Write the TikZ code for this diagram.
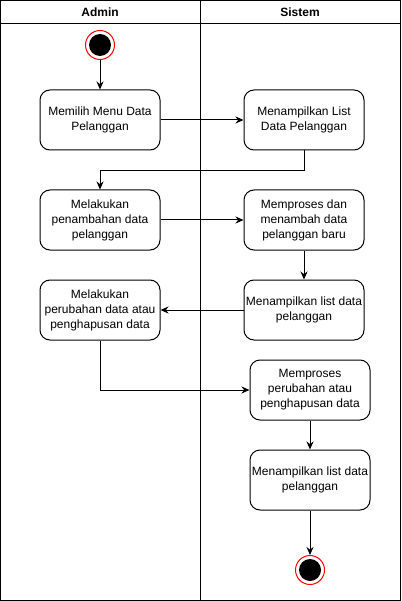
\documentclass[tikz,border=0pt]{standalone}
\usepackage{fontspec}
\setmainfont{Liberation Sans}
\usetikzlibrary{positioning,arrows.meta}

\begin{document}
\begin{tikzpicture}[x=1pt, y=-1pt,
    actnode/.style={rectangle, rounded corners=10pt, draw=black, line width=1pt, minimum width=120pt, minimum height=60pt, align=center, inner sep=0pt, font=\fontsize{12}{15}\selectfont},
    startnode/.style={circle, draw=red, line width=1pt, fill=white, minimum size=29pt, inner sep=0pt, path picture={\fill[black] (path picture bounding box.center) circle (11pt);}},
    flow/.style={-{Stealth[length=8pt, width=7pt]}, line width=1pt},
    lane/.style={line width=1pt},
    head/.style={font=\bfseries\fontsize{12}{14}\selectfont}]
    \useasboundingbox (0,0) rectangle (401,601);

    %Lanes
    \draw[lane] (0.5,0.5) rectangle (400.5,600.5);
    \draw[lane] (0.5,23.5) -- (400.5,23.5);
    \draw[lane] (200.5,0.5) -- (200.5,600.5);
    \node[head] (hadmin)  at (100,12) {Admin};
    \node[head] (hsistem) at (300,12) {Sistem};

    %Nodes
    \node[startnode]  (start) at (100,45)  {};
    \node[actnode]    (a1)    at (100,120) {Memilih Menu Data\\Pelanggan};
    \node[actnode]    (s1)    at (304,120) {Menampilkan List\\Data Pelanggan};
    \node[actnode]    (a2)    at (100,220) {Melakukan\\penambahan data\\pelanggan};
    \node[actnode]    (s2)    at (304,220) {Memproses dan\\menambah data\\pelanggan baru};
    \node[actnode]    (s3)    at (304,310) {Menampilkan list data\\pelanggan};
    \node[actnode]    (a3)    at (100,310) {Melakukan\\perubahan data atau\\penghapusan data};
    \node[actnode]    (s4)    at (310,390) {Memproses\\perubahan atau\\penghapusan data};
    \node[actnode]    (s5)    at (310,480) {Menampilkan list data\\pelanggan};
    \node[startnode]  (stop)  at (310,570) {};

    %Lines
    \draw[flow] (start.south) -- (a1.north);
    \draw[flow] (a1.east) -- (s1.west);
    \draw[flow] (s1.south) -- ++(0,20) -| (a2.north);
    \draw[flow] (a2.east) -- (s2.west);
    \draw[flow] (s2.south) -- (s3.north);
    \draw[flow] (s3.west) -- (a3.east);
    \draw[flow] (a3.south) |- (s4.west);
    \draw[flow] (s4.south) -- (s5.north);
    \draw[flow] (s5.south) -- (stop.north);
\end{tikzpicture}
\end{document}
